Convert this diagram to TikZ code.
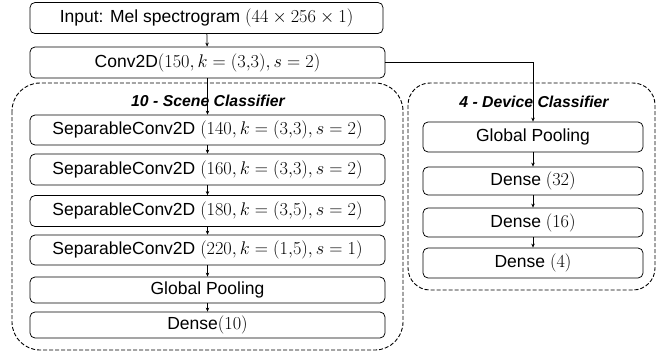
\RequirePackage{fix-cm}
\documentclass[tikz,border=0pt]{standalone}
\usepackage{amsmath,amssymb}
\usepackage{fontspec}
\setmainfont{Liberation Sans}
\usepackage{tikz}
\usetikzlibrary{arrows.meta,positioning,calc}

\newcommand{\lm}[1]{{\fontsize{18.3}{20}\selectfont$#1$}}

\tikzset{
  layer/.style={draw,line width=0.75pt,rounded corners=5pt,minimum height=30pt,inner sep=0pt,
    font=\fontsize{17.5}{20}\selectfont},
  scenelayer/.style={layer,minimum width=355pt},
  devlayer/.style={layer,minimum width=220pt},
  group/.style={draw,line width=0.9pt,dash pattern=on 4pt off 2pt},
  grouptitle/.style={font=\fontsize{15.8}{18}\selectfont\bfseries\itshape}
}

\begin{document}
\begin{tikzpicture}[x=1pt,y=-1pt,>={Stealth[length=4pt,width=3.5pt]}]
\useasboundingbox (0,0) rectangle (668,353);
% dashed groups
\draw[group,rounded corners=28pt](12,83)rectangle(403,350);
\draw[group,rounded corners=22pt](408,83)rectangle(655,290);
\node[grouptitle] (sceneT) at (208,101) {10 - Scene Classifier};
\node[grouptitle] (devT) at (534,102) {4 - Device Classifier};
% shared part
\node[layer,minimum width=353pt,minimum height=31pt] (inp) at (206.5,18) {Input: Mel spectrogram \lm{(44\times256\times1)}};
\node[layer,minimum width=355pt,minimum height=31pt] (conv) at (207.5,62.5) {Conv2D\lm{(150,k=(3{,}3),s=2)}};
% scene branch
\node[scenelayer] (sep1) at (207.5,130) {SeparableConv2D \lm{(140,k=(3{,}3),s=2)}};
\node[scenelayer,minimum height=31pt] (sep2) at (207.5,169.5) {SeparableConv2D \lm{(160,k=(3{,}3),s=2)}};
\node[scenelayer,minimum height=31pt] (sep3) at (207.5,211) {SeparableConv2D \lm{(180,k=(3{,}5),s=2)}};
\node[scenelayer] (sep4) at (207.5,250) {SeparableConv2D \lm{(220,k=(1{,}5),s=1)}};
\node[scenelayer,minimum height=26pt] (poolS) at (207.5,290) {Global Pooling};
\node[scenelayer,minimum height=26pt] (dense10) at (207.5,325) {Dense\lm{(10)}};
% device branch
\node[devlayer] (poolD) at (533,137) {Global Pooling};
\node[devlayer,minimum height=28pt] (dense32) at (533,181) {Dense \lm{(32)}};
\node[devlayer,minimum height=29pt] (dense16) at (533,222.5) {Dense \lm{(16)}};
\node[devlayer] (dense4) at (533,263) {Dense \lm{(4)}};
% arrows
\draw[->,line width=0.75pt](inp)--(conv);
\draw[->,line width=0.75pt](conv)--(sep1);
\draw[->,line width=0.75pt](sep1)--(sep2);
\draw[->,line width=0.75pt](sep2)--(sep3);
\draw[->,line width=0.75pt](sep3)--(sep4);
\draw[->,line width=0.75pt](sep4)--(poolS);
\draw[->,line width=0.75pt](poolS)--(dense10);
\draw[->,line width=0.75pt](conv.east)-|(poolD.north);
\draw[->,line width=0.75pt](poolD)--(dense32);
\draw[->,line width=0.75pt](dense32)--(dense16);
\draw[->,line width=0.75pt](dense16)--(dense4);
\end{tikzpicture}
\end{document}
